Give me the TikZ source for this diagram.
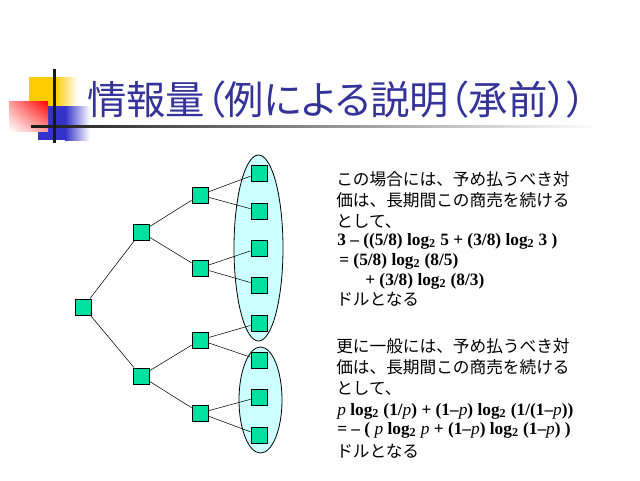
\documentclass[tikz,border=0pt]{standalone}
\usepackage{fontspec}
\usetikzlibrary{shadings}
\setmainfont{Liberation Serif}
\newfontfamily\jpfont{Noto Sans CJK JP}
\newfontfamily\jptitle[RawFeature=+palt]{Noto Sans CJK JP}
\definecolor{boxgreen}{RGB}{0,224,160}
\definecolor{setcyan}{RGB}{204,255,255}
\definecolor{titleblue}{RGB}{51,51,153}
\definecolor{decoyellow}{RGB}{255,204,0}
\definecolor{decoblue}{RGB}{51,51,204}
\newcommand\lgt{log\textsubscript{2}}
\newcommand\pv{{\mdseries\itshape p}}
\begin{document}
\begin{tikzpicture}[x=0.75pt, y=-0.75pt,
  sq/.style={draw, fill=boxgreen, line width=0.7pt, minimum size=12pt, inner sep=0},
  jp/.style={anchor=base west, inner sep=0, font=\jpfont\fontsize{12.5}{15}\selectfont},
  fm/.style={anchor=base west, inner sep=0, font=\bfseries\fontsize{13}{15}\selectfont}]
\useasboundingbox[fill=white] (0,0) rectangle (640,480);
% title decoration
\fill[decoyellow] (29,77) rectangle (55,120);
\shade[left color=decoyellow, right color=white] (55,77) rectangle (78,120);
\fill[decoblue] (38,106) rectangle (65,140);
\shade[left color=decoblue, right color=white] (65,106) rectangle (90,140);
\shade[upper left=red!40!white, upper right=red, lower left=white, lower right=red!40!white] (9,101) rectangle (48,131);
\shade[left color=black!90, right color=white] (31,125) rectangle (600,127.5);
\fill[black!90] (52.5,69) rectangle (55.5,143);
\node[anchor=west, inner sep=0, text=titleblue, font=\jptitle\fontsize{29.5}{33}\selectfont] (title) at (87,100) {情報量（例による説明（承前））};
% sets
\filldraw[fill=setcyan, line width=0.6pt] (258.5,248) ellipse [x radius=18.375pt, y radius=69.75pt];
\filldraw[fill=setcyan, line width=0.6pt] (260.5,400) ellipse [x radius=16.125pt, y radius=39.75pt];
% tree
\node[sq] (n0) at (83.5,307){};
\node[sq] (n1) at (141,232){};
\node[sq] (n3) at (200,195){};
\node[sq] (n7) at (259,173){};
\node[sq] (n8) at (259,211){};
\draw[](n3) -- (n7);
\draw[](n3) -- (n8);
\node[sq] (n4) at (200,268){};
\node[sq] (n9) at (259,248){};
\node[sq] (n10) at (259,285){};
\draw[](n4) -- (n9);
\draw[](n4) -- (n10);
\draw[](n1) -- (n3);
\draw[](n1) -- (n4);
\node[sq] (n2) at (141,376){};
\node[sq] (n5) at (200,340){};
\node[sq] (n11) at (259,323){};
\node[sq] (n12) at (259,360){};
\draw[](n5) -- (n11);
\draw[](n5) -- (n12);
\node[sq] (n6) at (200,413){};
\node[sq] (n13) at (259,397){};
\node[sq] (n14) at (259,435){};
\draw[](n6) -- (n13);
\draw[](n6) -- (n14);
\draw[](n2) -- (n5);
\draw[](n2) -- (n6);
\draw[](n0) -- (n1);
\draw[](n0) -- (n2);
% explanation
\node[jp] (t1) at (336,185) {この場合には、予め払うべき対};
\node[jp] (t2) at (336,206) {価は、長期間この商売を続ける};
\node[jp] (t3) at (336,227) {として、};
\node[fm] (t4) at (337,245) {3 – ((5/8) \lgt\ 5 + (3/8) \lgt\ 3 )};
\node[fm] (t5) at (339,265) {= (5/8) \lgt\ (8/5)};
\node[fm] (t6) at (365,285) {+ (3/8) \lgt\ (8/3)};
\node[jp] (t7) at (336,305) {ドルとなる};
\node[jp] (u1) at (336,352) {更に一般には、予め払うべき対};
\node[jp] (u2) at (336,373) {価は、長期間この商売を続ける};
\node[jp] (u3) at (336,394) {として、};
\node[fm] (u4) at (337,415) {\pv\ \lgt\ (1/\pv) + (1–\pv) \lgt\ (1/(1–\pv))};
\node[fm] (u5) at (337,434) {= – ( \pv\ \lgt\ \pv\ + (1–\pv) \lgt\ (1–\pv) )};
\node[jp] (u6) at (336,457) {ドルとなる};
\end{tikzpicture}
\end{document}
